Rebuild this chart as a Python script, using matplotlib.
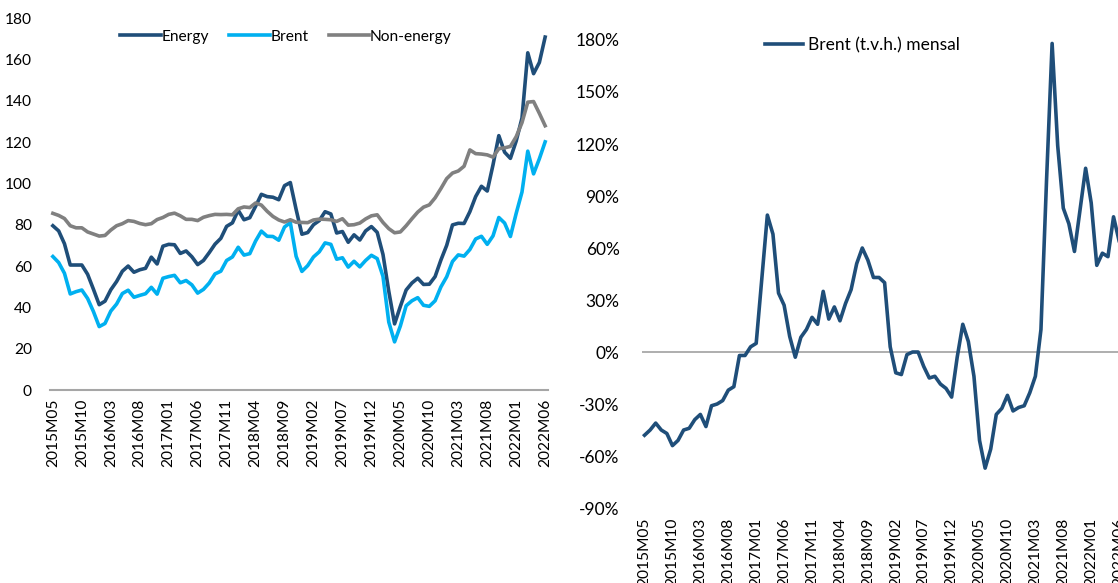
import matplotlib
matplotlib.use("Agg")
import matplotlib.pyplot as plt
from matplotlib.ticker import FuncFormatter

plt.rcParams["font.family"] = ["Lato", "DejaVu Sans"]
plt.rcParams["font.size"] = 11.2

# monthly categories 2015M05 .. 2022M06
MONTHS = [f"{y}M{m:02d}" for y in range(2015, 2023) for m in range(1, 13)]
MONTHS = MONTHS[MONTHS.index("2015M05"):MONTHS.index("2022M06") + 1]

ENERGY = [
    79.5, 77.0, 70.8, 60.5, 60.5, 60.5, 56.0, 48.8,
    41.3, 43.0, 48.5, 52.5, 57.5, 60.0, 57.0, 58.2, 58.9, 64.3, 61.0, 69.6,
    70.5, 70.3, 66.1, 67.3, 64.5, 60.7, 62.7, 66.5, 70.6, 73.4, 79.2, 80.9,
    87.0, 82.4, 83.4, 88.9, 94.7, 93.6, 93.3, 92.1, 98.9, 100.4, 87.4, 75.4,
    76.2, 80.0, 82.0, 86.3, 85.2, 76.0, 76.7, 71.5, 75.1, 72.6, 77.0, 79.1,
    76.3, 65.6, 47.8, 32.0, 40.5, 48.4, 51.8, 54.1, 51.1, 51.2, 54.9, 62.9,
    70.0, 79.9, 80.7, 80.6, 86.3, 93.6, 98.6, 96.3, 109.0, 123.1, 115.1, 112.1,
    120.5, 131.6, 163.2, 153.1, 158.5, 170.8,
]
BRENT = [
    64.6, 61.7, 56.5, 46.5, 47.6, 48.4, 44.3, 38.0,
    30.7, 32.2, 38.2, 41.6, 46.7, 48.3, 44.9, 45.8, 46.6, 49.7, 46.4, 54.1,
    54.9, 55.5, 51.9, 53.0, 50.9, 46.9, 48.7, 51.8, 56.2, 57.5, 62.7, 64.4,
    69.1, 65.3, 66.0, 72.1, 76.9, 74.4, 74.3, 72.5, 78.9, 81.0, 64.7, 57.4,
    60.2, 64.4, 66.9, 71.2, 70.5, 63.3, 64.0, 59.5, 62.3, 59.6, 62.7, 65.2,
    63.6, 55.0, 32.9, 23.3, 31.0, 40.8, 43.2, 44.7, 41.0, 40.5, 43.2, 49.9,
    54.8, 62.2, 65.4, 64.8, 68.0, 73.1, 74.4, 70.5, 74.6, 83.5, 80.8, 74.3,
    85.5, 95.8, 115.6, 104.6, 111.9, 120.1,
]
NON_ENERGY = [
    85.5, 84.5, 83.0, 79.5, 78.5, 78.5, 76.5, 75.5,
    74.5, 74.8, 77.4, 79.5, 80.5, 82.0, 81.6, 80.6, 80.0, 80.5, 82.5, 83.5,
    85.0, 85.6, 84.3, 82.6, 82.6, 82.0, 83.6, 84.4, 85.0, 84.9, 85.0, 84.8,
    87.7, 88.6, 88.3, 90.5, 89.5, 86.5, 84.0, 82.3, 81.3, 82.4, 81.2, 81.1,
    81.0, 82.3, 82.7, 82.6, 82.4, 81.6, 82.9, 79.8, 80.0, 80.8, 82.8, 84.3,
    84.8, 81.1, 78.1, 76.1, 76.5, 79.5, 82.9, 86.1, 88.5, 89.6, 93.0, 97.5,
    102.3, 105.0, 106.0, 108.3, 116.2, 114.4, 114.2, 113.8, 112.7, 116.8, 117.2, 117.9,
    122.6, 129.4, 139.3, 139.6, 133.9, 127.9,
]

# Brent y/y change, %
BRENT_YOY = [
    -48, -45, -41, -45, -47, -54, -51, -45, -44, -39,
    -36, -43, -31, -30, -28, -22, -20, -2, -2, 3,
    5, 42, 79, 68, 34, 27, 9, -3, 8.5, 13,
    20, 16, 35, 19, 26, 18, 28, 36, 51, 60,
    53, 43, 43, 40, 3, -12, -13, -1.5, 0, 0,
    -8.3, -15, -14, -18.5, -21, -26, -3, 16, 6, -14,
    -51, -67, -56, -36, -32.5, -25, -34, -32, -31, -23.5,
    -14, 13, 99, 178, 119, 83, 74, 58, 82, 106,
    86, 50, 57, 55, 78, 64,
]

TICK_STEP = 5
DARK = "#1f4e79"
LIGHT = "#00b0f0"
GREY = "#808080"

fig = plt.figure(figsize=(11.18, 5.83), dpi=100)

# left panel
ax1 = fig.add_axes([0.0447, 0.331, 0.4455, 0.638])
x = range(len(MONTHS))
ax1.plot(x, ENERGY, color=DARK, lw=2.6, label="Energy")
ax1.plot(x, BRENT, color=LIGHT, lw=2.6, label="Brent")
ax1.plot(x, NON_ENERGY, color=GREY, lw=2.6, label="Non-energy")
ax1.set_xlim(-0.5, len(MONTHS) - 0.5)
ax1.set_ylim(0, 180)
ax1.set_yticks(range(0, 181, 20))
ax1.set_xticks(list(x)[::TICK_STEP])
ax1.set_xticklabels(MONTHS[::TICK_STEP], rotation=90)
for s in ["top", "right", "left"]:
    ax1.spines[s].set_visible(False)
ax1.spines["bottom"].set_color("#a6a6a6")
ax1.spines["bottom"].set_linewidth(1.5)
ax1.tick_params(length=0)
ax1.tick_params(axis="y", pad=13)
ax1.tick_params(axis="x", pad=6)
ax1.legend(loc="upper center", bbox_to_anchor=(0.474, 0.99), ncol=3, frameon=False,
           handlelength=2.6, handletextpad=0.05, columnspacing=1.3, borderaxespad=0.1)

# right panel
ax2 = fig.add_axes([0.574, 0.1286, 0.4295, 0.8028])
ax2.plot(x, BRENT_YOY, color=DARK, lw=2.6, label="Brent (t.v.h.) mensal")
ax2.axhline(0, color="#999999", lw=1.1, zorder=0)
ax2.set_xlim(-0.5, len(MONTHS) - 0.5)
ax2.set_ylim(-90, 180)
ax2.set_yticks(range(-90, 181, 30))
ax2.yaxis.set_major_formatter(FuncFormatter(lambda v, _: f"{v:.0f}%"))
ax2.set_xticks(list(x)[::TICK_STEP])
ax2.set_xticklabels(MONTHS[::TICK_STEP], rotation=90)
for s in ax2.spines.values():
    s.set_visible(False)
ax2.tick_params(length=0)
ax2.tick_params(axis="y", pad=16, labelsize=12.5)
ax2.tick_params(axis="x", pad=7, labelsize=11.2)
ax2.legend(loc="upper center", bbox_to_anchor=(0.46, 1.025), frameon=False, fontsize=12.5,
           handlelength=2.2, handletextpad=0.3, borderaxespad=0.1)

fig.savefig("out.png", dpi=100)
